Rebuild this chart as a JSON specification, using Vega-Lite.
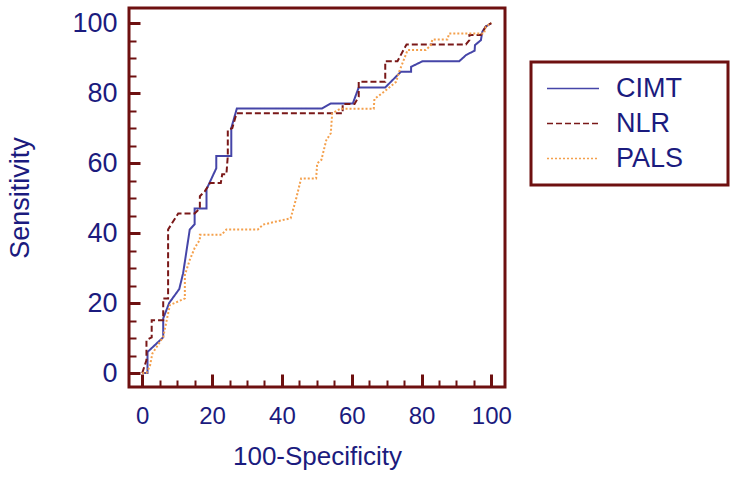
{
  "$schema": "https://vega.github.io/schema/vega-lite/v6.json",
  "width": 376,
  "height": 379,
  "autosize": "none",
  "padding": {"left": 129, "top": 8, "right": 231, "bottom": 94},
  "config": {
    "view": {"stroke": "#6e1010", "strokeWidth": 3},
    "font": "Liberation Sans",
    "legend": {"strokeWidth": 3},
    "axis": {"grid": false, "domain": false, "tickColor": "#6e1010", "labelColor": "#1b1b7e", "titleColor": "#1b1b7e", "labelFont": "Liberation Sans", "titleFont": "Liberation Sans", "titleFontWeight": "normal"}
  },
  "datasets": {
    "roc": [
      {"series": "CIMT", "i": 0, "fpr": 0, "tpr": 0},
      {"series": "CIMT", "i": 1, "fpr": 1.5, "tpr": 0},
      {"series": "CIMT", "i": 2, "fpr": 1.5, "tpr": 6},
      {"series": "CIMT", "i": 3, "fpr": 6, "tpr": 10.2},
      {"series": "CIMT", "i": 4, "fpr": 6, "tpr": 15.6},
      {"series": "CIMT", "i": 5, "fpr": 7.7, "tpr": 20},
      {"series": "CIMT", "i": 6, "fpr": 10.6, "tpr": 24},
      {"series": "CIMT", "i": 7, "fpr": 11.7, "tpr": 28.5},
      {"series": "CIMT", "i": 8, "fpr": 13.6, "tpr": 41},
      {"series": "CIMT", "i": 9, "fpr": 15, "tpr": 42.5},
      {"series": "CIMT", "i": 10, "fpr": 15, "tpr": 47},
      {"series": "CIMT", "i": 11, "fpr": 18.4, "tpr": 47},
      {"series": "CIMT", "i": 12, "fpr": 18.4, "tpr": 52.5},
      {"series": "CIMT", "i": 13, "fpr": 21.2, "tpr": 58.5},
      {"series": "CIMT", "i": 14, "fpr": 21.2, "tpr": 62},
      {"series": "CIMT", "i": 15, "fpr": 25.5, "tpr": 62},
      {"series": "CIMT", "i": 16, "fpr": 25.5, "tpr": 70},
      {"series": "CIMT", "i": 17, "fpr": 27.1, "tpr": 75.6},
      {"series": "CIMT", "i": 18, "fpr": 51.5, "tpr": 75.6},
      {"series": "CIMT", "i": 19, "fpr": 54, "tpr": 77},
      {"series": "CIMT", "i": 20, "fpr": 60.3, "tpr": 77},
      {"series": "CIMT", "i": 21, "fpr": 62, "tpr": 81.6},
      {"series": "CIMT", "i": 22, "fpr": 69.6, "tpr": 81.6},
      {"series": "CIMT", "i": 23, "fpr": 71.2, "tpr": 83.2},
      {"series": "CIMT", "i": 24, "fpr": 74.1, "tpr": 86.1},
      {"series": "CIMT", "i": 25, "fpr": 77, "tpr": 86.1},
      {"series": "CIMT", "i": 26, "fpr": 77, "tpr": 87.5},
      {"series": "CIMT", "i": 27, "fpr": 80.3, "tpr": 89.1},
      {"series": "CIMT", "i": 28, "fpr": 90.8, "tpr": 89.1},
      {"series": "CIMT", "i": 29, "fpr": 92.8, "tpr": 90.9},
      {"series": "CIMT", "i": 30, "fpr": 95.2, "tpr": 92.1},
      {"series": "CIMT", "i": 31, "fpr": 95.3, "tpr": 93.7},
      {"series": "CIMT", "i": 32, "fpr": 97, "tpr": 95.1},
      {"series": "CIMT", "i": 33, "fpr": 97.4, "tpr": 97.5},
      {"series": "CIMT", "i": 34, "fpr": 98.4, "tpr": 99},
      {"series": "CIMT", "i": 35, "fpr": 100, "tpr": 100},
      {"series": "NLR", "i": 0, "fpr": 0, "tpr": 0},
      {"series": "NLR", "i": 1, "fpr": 1.2, "tpr": 3.7},
      {"series": "NLR", "i": 2, "fpr": 1.2, "tpr": 9.4},
      {"series": "NLR", "i": 3, "fpr": 2.7, "tpr": 10.2},
      {"series": "NLR", "i": 4, "fpr": 2.7, "tpr": 15.1},
      {"series": "NLR", "i": 5, "fpr": 6, "tpr": 15.1},
      {"series": "NLR", "i": 6, "fpr": 6, "tpr": 21.3},
      {"series": "NLR", "i": 7, "fpr": 7.4, "tpr": 21.3},
      {"series": "NLR", "i": 8, "fpr": 7.4, "tpr": 41},
      {"series": "NLR", "i": 9, "fpr": 10.3, "tpr": 45.6},
      {"series": "NLR", "i": 10, "fpr": 15, "tpr": 45.6},
      {"series": "NLR", "i": 11, "fpr": 16.5, "tpr": 47},
      {"series": "NLR", "i": 12, "fpr": 16.5, "tpr": 50.5},
      {"series": "NLR", "i": 13, "fpr": 17.9, "tpr": 51.9},
      {"series": "NLR", "i": 14, "fpr": 19.4, "tpr": 54.3},
      {"series": "NLR", "i": 15, "fpr": 22.5, "tpr": 54.3},
      {"series": "NLR", "i": 16, "fpr": 22.9, "tpr": 56.8},
      {"series": "NLR", "i": 17, "fpr": 24.1, "tpr": 56.8},
      {"series": "NLR", "i": 18, "fpr": 24.5, "tpr": 62},
      {"series": "NLR", "i": 19, "fpr": 24.5, "tpr": 69.4},
      {"series": "NLR", "i": 20, "fpr": 25.8, "tpr": 70},
      {"series": "NLR", "i": 21, "fpr": 27, "tpr": 74.2},
      {"series": "NLR", "i": 22, "fpr": 57.4, "tpr": 74.2},
      {"series": "NLR", "i": 23, "fpr": 57.4, "tpr": 76.9},
      {"series": "NLR", "i": 24, "fpr": 60.8, "tpr": 76.9},
      {"series": "NLR", "i": 25, "fpr": 62, "tpr": 79},
      {"series": "NLR", "i": 26, "fpr": 62, "tpr": 83.2},
      {"series": "NLR", "i": 27, "fpr": 69.6, "tpr": 83.2},
      {"series": "NLR", "i": 28, "fpr": 69.6, "tpr": 89.1},
      {"series": "NLR", "i": 29, "fpr": 73.1, "tpr": 89.1},
      {"series": "NLR", "i": 30, "fpr": 75.7, "tpr": 93.9},
      {"series": "NLR", "i": 31, "fpr": 92.7, "tpr": 93.9},
      {"series": "NLR", "i": 32, "fpr": 93.7, "tpr": 95.1},
      {"series": "NLR", "i": 33, "fpr": 93.7, "tpr": 96.6},
      {"series": "NLR", "i": 34, "fpr": 97, "tpr": 96.6},
      {"series": "NLR", "i": 35, "fpr": 98.4, "tpr": 99},
      {"series": "NLR", "i": 36, "fpr": 100, "tpr": 100},
      {"series": "PALS", "i": 0, "fpr": 0, "tpr": 0},
      {"series": "PALS", "i": 1, "fpr": 1.2, "tpr": 0},
      {"series": "PALS", "i": 2, "fpr": 2.2, "tpr": 2},
      {"series": "PALS", "i": 3, "fpr": 2.9, "tpr": 5.6},
      {"series": "PALS", "i": 4, "fpr": 6, "tpr": 10.3},
      {"series": "PALS", "i": 5, "fpr": 7.9, "tpr": 19.4},
      {"series": "PALS", "i": 6, "fpr": 12.2, "tpr": 21.3},
      {"series": "PALS", "i": 7, "fpr": 12.2, "tpr": 28},
      {"series": "PALS", "i": 8, "fpr": 13.6, "tpr": 32.3},
      {"series": "PALS", "i": 9, "fpr": 15, "tpr": 35.7},
      {"series": "PALS", "i": 10, "fpr": 16.5, "tpr": 38.1},
      {"series": "PALS", "i": 11, "fpr": 16.5, "tpr": 39.5},
      {"series": "PALS", "i": 12, "fpr": 22.7, "tpr": 39.5},
      {"series": "PALS", "i": 13, "fpr": 24.1, "tpr": 41},
      {"series": "PALS", "i": 14, "fpr": 33.1, "tpr": 41},
      {"series": "PALS", "i": 15, "fpr": 34.6, "tpr": 42.4},
      {"series": "PALS", "i": 16, "fpr": 38.4, "tpr": 43.3},
      {"series": "PALS", "i": 17, "fpr": 42.5, "tpr": 44.2},
      {"series": "PALS", "i": 18, "fpr": 44.1, "tpr": 49.9},
      {"series": "PALS", "i": 19, "fpr": 45.5, "tpr": 55.6},
      {"series": "PALS", "i": 20, "fpr": 49.8, "tpr": 55.6},
      {"series": "PALS", "i": 21, "fpr": 50.1, "tpr": 59.9},
      {"series": "PALS", "i": 22, "fpr": 51.3, "tpr": 60.9},
      {"series": "PALS", "i": 23, "fpr": 52.7, "tpr": 66.5},
      {"series": "PALS", "i": 24, "fpr": 54, "tpr": 68.5},
      {"series": "PALS", "i": 25, "fpr": 54.4, "tpr": 74.2},
      {"series": "PALS", "i": 26, "fpr": 56.7, "tpr": 75.5},
      {"series": "PALS", "i": 27, "fpr": 66.3, "tpr": 75.5},
      {"series": "PALS", "i": 28, "fpr": 66.5, "tpr": 78.3},
      {"series": "PALS", "i": 29, "fpr": 69.3, "tpr": 80.4},
      {"series": "PALS", "i": 30, "fpr": 72.7, "tpr": 83.2},
      {"series": "PALS", "i": 31, "fpr": 73.6, "tpr": 86.1},
      {"series": "PALS", "i": 32, "fpr": 76, "tpr": 92.3},
      {"series": "PALS", "i": 33, "fpr": 81.2, "tpr": 92.3},
      {"series": "PALS", "i": 34, "fpr": 82.7, "tpr": 93.7},
      {"series": "PALS", "i": 35, "fpr": 83.1, "tpr": 95.3},
      {"series": "PALS", "i": 36, "fpr": 87.4, "tpr": 95.3},
      {"series": "PALS", "i": 37, "fpr": 87.9, "tpr": 97},
      {"series": "PALS", "i": 38, "fpr": 97.9, "tpr": 97},
      {"series": "PALS", "i": 39, "fpr": 98.4, "tpr": 99},
      {"series": "PALS", "i": 40, "fpr": 100, "tpr": 100}
    ]
  },
  "data": {"name": "roc"},
  "layer": [
    {
      "mark": {"type": "point", "opacity": 0},
      "encoding": {
        "x": {"field": "fpr", "type": "quantitative", "scale": {"domain": [-3.8, 103.9], "nice": false, "zero": false},
              "axis": {"orient": "bottom", "values": [5, 10, 15, 25, 30, 35, 45, 50, 55, 65, 70, 75, 85, 90, 95], "tickSize": -7, "tickWidth": 2, "labels": false, "title": null}},
        "y": {"field": "tpr", "type": "quantitative", "scale": {"domain": [-4, 104.3], "nice": false, "zero": false},
              "axis": {"orient": "left", "values": [5, 10, 15, 25, 30, 35, 45, 50, 55, 65, 70, 75, 85, 90, 95], "tickSize": -7, "tickWidth": 2, "labels": false, "title": null}}
      }
    },
    {
      "mark": {"type": "line", "strokeWidth": 2},
      "encoding": {
        "x": {"field": "fpr", "type": "quantitative",
              "axis": {"orient": "bottom", "values": [0, 20, 40, 60, 80, 100], "tickSize": -13, "tickWidth": 3, "labelFontSize": 24, "labelPadding": 30, "title": "100-Specificity", "titleFontSize": 26, "titlePadding": 15}},
        "y": {"field": "tpr", "type": "quantitative",
              "axis": {"orient": "left", "values": [0, 20, 40, 60, 80, 100], "tickSize": -11, "tickWidth": 3, "labelFontSize": 27, "labelPadding": 23, "title": "Sensitivity", "titleFontSize": 27, "titlePadding": 37}},
        "color": {"field": "series", "type": "nominal",
                  "scale": {"domain": ["CIMT", "NLR", "PALS"], "range": ["#4545a8", "#7a1818", "#f4a04c"]},
                  "legend": {"orient": "none", "legendX": 402, "legendY": 54, "title": null, "strokeColor": "#6e1010", "fillColor": "white", "padding": 9, "symbolOffset": 6, "symbolType": "stroke", "symbolSize": 2704, "symbolStrokeWidth": 1.5, "clipHeight": 35, "labelFontSize": 27, "labelColor": "#1b1b7e", "labelFont": "Liberation Sans", "labelOffset": 16, "rowPadding": 0, "labelExpr": "datum.label + '\u00a0\u00a0\u00a0\u00a0\u2009\u200b'"}},
        "strokeDash": {"field": "series", "type": "nominal",
                  "scale": {"domain": ["CIMT", "NLR", "PALS"], "range": [[1, 0], [6, 3], [2, 2]]},
                  "legend": {"orient": "none", "legendX": 402, "legendY": 54, "title": null, "strokeColor": "#6e1010", "fillColor": "white", "padding": 9, "symbolOffset": 6, "symbolType": "stroke", "symbolSize": 2704, "symbolStrokeWidth": 1.5, "clipHeight": 35, "labelFontSize": 27, "labelColor": "#1b1b7e", "labelFont": "Liberation Sans", "labelOffset": 16, "rowPadding": 0, "labelExpr": "datum.label + '\u00a0\u00a0\u00a0\u00a0\u2009\u200b'"}},
        "order": {"field": "i", "type": "quantitative"}
      }
    }
  ],
  "resolve": {"axis": {"x": "independent", "y": "independent"}}
}
